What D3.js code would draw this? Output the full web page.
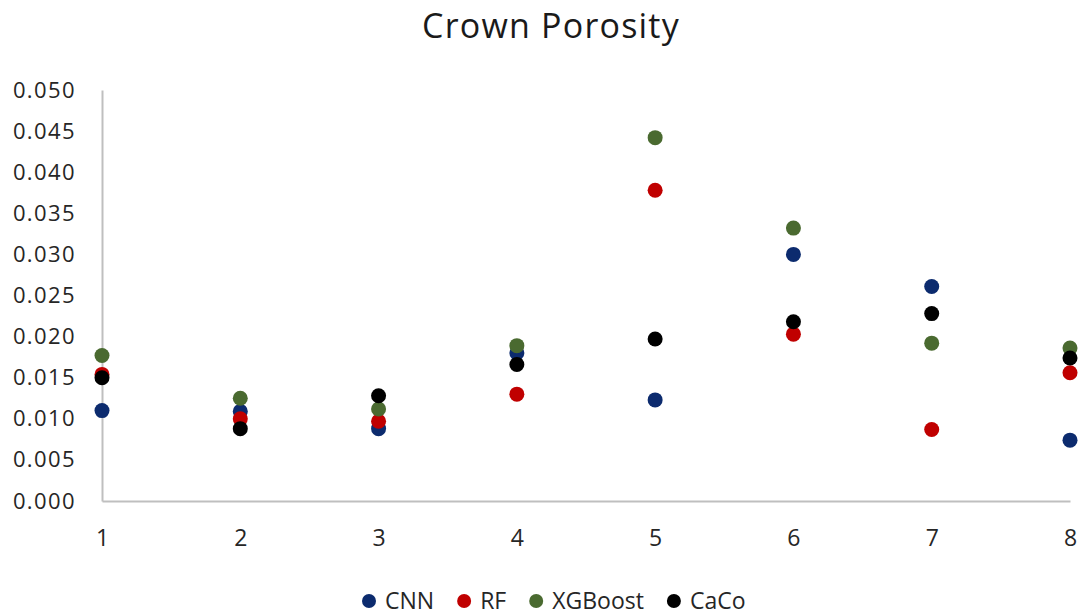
<!DOCTYPE html>
<html>
<head>
<meta charset="utf-8">
<script src="https://cdn.jsdelivr.net/npm/d3@7"></script>
<style>
  html, body { margin: 0; padding: 0; background: #fff; }
  svg { display: block; font-family: "Open Sans", "Noto Sans", sans-serif; }
</style>
</head>
<body>
<svg id="chart" width="1083" height="615"></svg>
<script>
const title = "Crown Porosity";
const categories = [1, 2, 3, 4, 5, 6, 7, 8];
const yTicks = [0, 0.005, 0.010, 0.015, 0.020, 0.025, 0.030, 0.035, 0.040, 0.045, 0.050];
const seriesNames = ["CNN", "RF", "XGBoost", "CaCo"];
const seriesColors = ["#0c2b6e", "#c00000", "#4a6a30", "#000000"];
const cnn     = [0.0110, 0.0109, 0.0088, 0.0180, 0.0123, 0.0300, 0.0261, 0.0074];
const rf      = [0.0154, 0.0100, 0.0097, 0.0130, 0.0378, 0.0203, 0.0087, 0.0156];
const xgboost = [0.0177, 0.0125, 0.0112, 0.0189, 0.0442, 0.0332, 0.0192, 0.0186];
const caco    = [0.0150, 0.0088, 0.0128, 0.0166, 0.0197, 0.0218, 0.0228, 0.0174];
const seriesValues = [cnn, rf, xgboost, caco];

const svg = d3.select("#chart");
const x = d3.scaleLinear().domain([1, 8]).range([102, 1070]);
const y = d3.scaleLinear().domain([0, 0.05]).range([501, 90]);
const axisColor = "#bfbfbf";
const textColor = "#262626";

// Title
svg.append("text")
  .attr("x", 551).attr("y", 38)
  .attr("text-anchor", "middle")
  .attr("font-size", 34)
  .attr("letter-spacing", 1.2)
  .attr("fill", "#1a1a1a")
  .text(title);

// Y axis
const yAxis = svg.append("g")
  .attr("transform", `translate(${x(1)},0)`)
  .call(d3.axisLeft(y).tickValues(yTicks).tickFormat(d3.format(".3f")).tickSize(0).tickPadding(26));
yAxis.select(".domain").attr("stroke", axisColor).attr("stroke-width", 2);
yAxis.selectAll("text")
  .attr("font-size", 22).attr("letter-spacing", 1.4)
  .attr("fill", textColor).attr("font-family", "Open Sans");

// X axis
const xAxis = svg.append("g")
  .attr("transform", `translate(0,${y(0)})`)
  .call(d3.axisBottom(x).tickValues(categories).tickFormat(d3.format("d")).tickSize(0).tickPadding(29));
xAxis.select(".domain").attr("stroke", axisColor).attr("stroke-width", 2);
xAxis.selectAll("text")
  .attr("font-size", 23)
  .attr("fill", textColor).attr("font-family", "Open Sans");

// Points
seriesValues.forEach((vals, si) => {
  svg.append("g")
    .selectAll("circle")
    .data(vals)
    .join("circle")
    .attr("cx", (d, i) => x(categories[i]))
    .attr("cy", d => y(d))
    .attr("r", 7.5)
    .attr("fill", seriesColors[si]);
});

// Legend
const legend = svg.append("g");
const items = legend.selectAll("g").data(seriesNames).join("g");
items.append("circle").attr("r", 7).attr("fill", (d, i) => seriesColors[i]);
items.append("text")
  .attr("x", 16).attr("dy", "0.36em")
  .attr("font-size", 23)
  .attr("fill", textColor)
  .text(d => d);
let cursor = 0;
const positions = [];
items.each(function () {
  const w = this.querySelector("text").getComputedTextLength();
  positions.push(cursor);
  cursor += 16 + w + 30;
});
const start = 369;
items.attr("transform", (d, i) => `translate(${start + positions[i]},601)`);
</script>
</body>
</html>
